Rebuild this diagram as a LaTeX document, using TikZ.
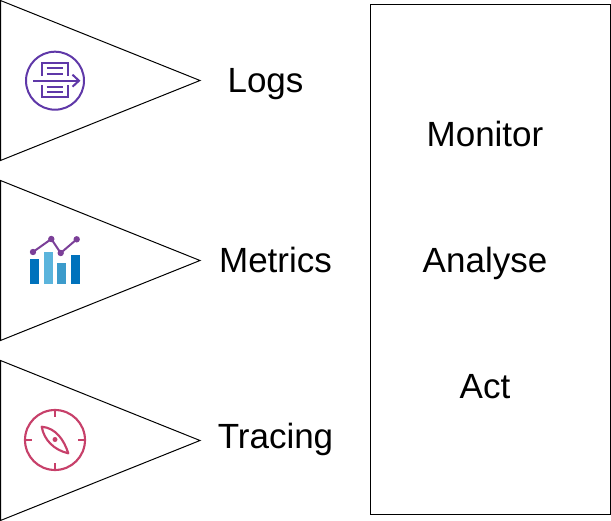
\documentclass[tikz,border=0pt]{standalone}
\usepackage{fontspec}
\setmainfont{Liberation Sans}
\definecolor{logp}{HTML}{5F38A8}
\definecolor{metp}{HTML}{7B3F98}
\definecolor{barA}{HTML}{0072BC}
\definecolor{barB}{HTML}{5BB4DC}
\definecolor{barC}{HTML}{3C9BCB}
\definecolor{trc}{HTML}{C7406A}
\tikzset{
  px/.style={x=0.75pt,y=-0.75pt},
  outline/.style={draw=black,line width=0.75pt},
  label/.style={font=\fontsize{26.25pt}{30pt}\selectfont,text=black,inner sep=0pt,anchor=base},
  logline/.style={draw=logp,line width=1.5pt},
  trcline/.style={draw=trc,line width=1.6pt},
}
\begin{document}
\begin{tikzpicture}[px]
\useasboundingbox (0,0) rectangle (611,521);
\draw[outline] (0.5,0.5) -- (200,80.5) -- (0.5,160.5) -- cycle;
\draw[outline] (0.5,180.5) -- (200,260.5) -- (0.5,340.5) -- cycle;
\draw[outline] (0.5,360.5) -- (200,440.5) -- (0.5,520.5) -- cycle;
\draw[outline] (370.5,4.5) rectangle (610.5,514.5);
% text
\node[label] (logs) at (265.5,92) {Logs};
\node[label] (metrics) at (275.5,272) {Metrics};
\node[label] (tracing) at (275.5,448) {Tracing};
\node[label] (monitor) at (485,146) {Monitor};
\node[label] (analyse) at (485,272) {Analyse};
\node[label] (act) at (485,398) {Act};
% logs icon
\draw[logline] (55,80.7) circle (29);
\draw[logline] (41.7,76) -- (41.7,62.7) -- (67.7,62.7) -- (67.7,76);
\draw[logline] (41.7,85) -- (41.7,97.3) -- (67.7,97.3) -- (67.7,85);
\draw[logline] (46.7,68.3) -- (63,68.3);
\draw[logline] (46.7,74.3) -- (63,74.3);
\draw[logline] (46.7,86.7) -- (63,86.7);
\draw[logline] (46.7,91.7) -- (63,91.7);
\draw[logline] (33,80.7) -- (78,80.7);
\draw[logline] (72.5,74.7) -- (79,80.7) -- (72.5,86.7);
% metrics icon
\fill[barA] (30,259) rectangle (39,283.7);
\fill[barB] (43.7,252) rectangle (52.7,283.7);
\fill[barC] (57.3,263) rectangle (66.3,283.7);
\fill[barA] (71,255.3) rectangle (80,283.7);
\draw[metp,line width=1.5pt] (33,252) -- (51.3,239) -- (60.7,253) -- (76.7,239.3);
\fill[metp] (33,252) circle (3.2) (51.3,239) circle (3.2) (60.7,253) circle (3.2) (76.7,239.3) circle (3.2);
% tracing icon
\draw[trcline] (55,440) circle (30);
\draw[trcline] (55,410) -- (55,417) (55,463) -- (55,470) (25,440) -- (32,440) (78,440) -- (85,440);
\draw[trcline,line join=round] (41.7,426.7) .. controls (56,428) and (64,440) .. (68.3,453.3) .. controls (54,450) and (44,440) .. (41.7,426.7) -- cycle;
\fill[trc] (55,439.5) circle (2.5);
\end{tikzpicture}
\end{document}
